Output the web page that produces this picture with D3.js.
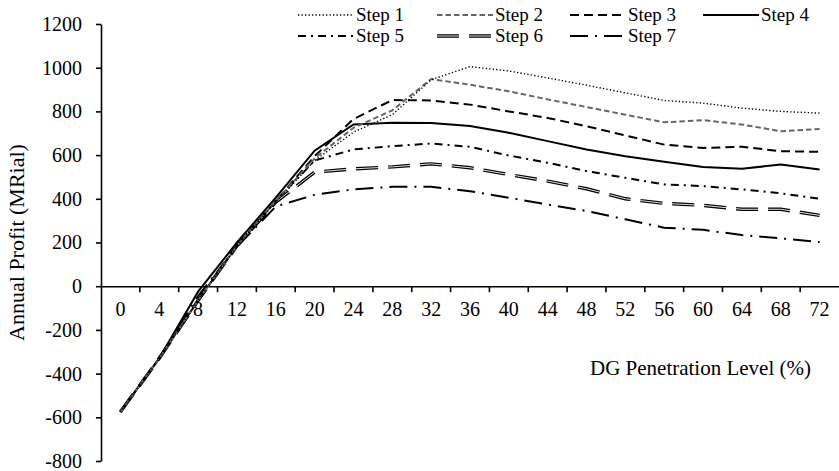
<!DOCTYPE html>
<html>
<head>
<meta charset="utf-8">
<script src="https://cdn.jsdelivr.net/npm/d3@7"></script>
<style>
  body { margin: 0; background: #fff; }
</style>
</head>
<body>
<svg id="chart" width="839" height="471"></svg>
<script>
// DG penetration level (%)
const levels = [0, 4, 8, 12, 16, 20, 24, 28, 32, 36, 40, 44, 48, 52, 56, 60, 64, 68, 72];
const yTicks = [-800, -600, -400, -200, 0, 200, 400, 600, 800, 1000, 1200];
const seriesNames = ['Step 1', 'Step 2', 'Step 3', 'Step 4', 'Step 5', 'Step 6', 'Step 7'];

// annual profit (MRial)
const step1 = [-575, -330, -65, 185, 385, 575, 705, 785, 945, 1005, 985, 953, 920, 885, 850, 838, 815, 800, 792];
const step2 = [-575, -330, -65, 185, 390, 585, 725, 805, 948, 922, 892, 855, 820, 785, 750, 760, 740, 709, 720];
const step3 = [-575, -330, -65, 185, 390, 595, 765, 852, 850, 831, 800, 770, 732, 690, 648, 633, 638, 618, 615];
const step4 = [-575, -330, -25, 200, 405, 620, 740, 748, 747, 733, 702, 664, 626, 595, 570, 546, 537, 557, 534];
const step5 = [-575, -330, -65, 185, 390, 575, 626, 641, 653, 638, 598, 565, 527, 496, 466, 458, 443, 425, 400];
const step6 = [-575, -330, -65, 185, 385, 522, 537, 546, 560, 542, 511, 481, 446, 400, 379, 370, 352, 352, 324];
const step7 = [-575, -330, -45, 180, 365, 418, 443, 455, 455, 435, 405, 374, 344, 306, 268, 258, 234, 219, 202];

const FONT = '"Liberation Serif", "Times New Roman", serif';

const styles = [
  { color: '#000', width: 1.4, dash: '1.3,2.2' },
  { color: '#666', width: 2, dash: '5.5,3' },
  { color: '#000', width: 2, dash: '9,5' },
  { color: '#000', width: 2, dash: null },
  { color: '#000', width: 2, dash: '8,5,2,5' },
  { color: '#000', width: 3.4, dash: '22,10', inner: '#e6e6e6' },
  { color: '#000', width: 2, dash: '18,7,2,7' }
];

const series = [step1, step2, step3, step4, step5, step6, step7].map((vals, i) => ({
  name: seriesNames[i],
  style: styles[i],
  points: vals.map((v, j) => ({ x: levels[j], y: v }))
}));

const svg = d3.select('#chart');

const x = d3.scaleBand().domain(levels).range([101, 839]);
const y = d3.scaleLinear().domain([-800, 1200]).range([461, 24]);
const cx = (d) => x(d) + x.bandwidth() / 2;

// y axis
const yAxis = svg.append('g')
  .attr('transform', 'translate(101,0)')
  .call(d3.axisLeft(y).tickValues(yTicks).tickFormat((d) => String(d))
    .tickSize(5).tickSizeOuter(0).tickPadding(14));
yAxis.select('.domain').attr('stroke', '#000').attr('stroke-width', 1.6);
yAxis.selectAll('.tick line').attr('stroke', '#000').attr('stroke-width', 1.6);
yAxis.selectAll('.tick text')
  .style('font-family', FONT)
  .attr('font-size', 20)
  .attr('fill', '#000');

// x axis at zero, ticks between categories
const xAxis = svg.append('g')
  .attr('transform', `translate(0,${y(0)})`)
  .call(d3.axisBottom(x).tickSize(0).tickSizeOuter(0).tickPadding(16));
xAxis.select('.domain').attr('stroke', '#000').attr('stroke-width', 1.6);
xAxis.selectAll('.tick text')
  .style('font-family', FONT)
  .attr('font-size', 20)
  .attr('fill', '#000');
xAxis.selectAll('line.sep')
  .data(levels.slice(1))
  .enter()
  .append('line')
  .classed('sep', true)
  .attr('x1', (d) => x(d))
  .attr('x2', (d) => x(d))
  .attr('y1', 0)
  .attr('y2', 6)
  .attr('stroke', '#000')
  .attr('stroke-width', 1.6);

// axis titles
svg.append('text')
  .attr('transform', `translate(24,${(y(1200) + y(-800)) / 2}) rotate(-90)`)
  .attr('text-anchor', 'middle')
  .style('font-family', FONT)
  .attr('font-size', 22)
  .text('Annual Profit (MRial)');

svg.append('text')
  .attr('x', 811)
  .attr('y', 375)
  .attr('text-anchor', 'end')
  .style('font-family', FONT)
  .attr('font-size', 21)
  .text('DG Penetration Level (%)');

// lines
const line = d3.line().x((d) => cx(d.x)).y((d) => y(d.y));

function drawPath(sel, s, pathFn) {
  sel.append('path')
    .attr('d', pathFn)
    .attr('fill', 'none')
    .attr('stroke', s.color)
    .attr('stroke-width', s.width)
    .attr('stroke-dasharray', s.dash);
  if (s.inner) {
    sel.append('path')
      .attr('d', pathFn)
      .attr('fill', 'none')
      .attr('stroke', s.inner)
      .attr('stroke-width', 1)
      .attr('stroke-dasharray', s.dash);
  }
}

const lines = svg.append('g');
series.slice().reverse().forEach((s) => {
  drawPath(lines.append('g'), s.style, line(s.points));
});

// legend
const legCols = [298, 437, 570, 703];
const legend = svg.append('g');
series.forEach((s, i) => {
  const col = i < 4 ? i : i - 4;
  const row = i < 4 ? 0 : 1;
  const lx = legCols[col];
  const ly = 15 + row * 21;
  const g = legend.append('g');
  drawPath(g, s.style, `M${lx},${ly}H${lx + 56}`);
  g.append('text')
    .attr('x', lx + 58)
    .attr('y', ly + 6)
    .style('font-family', FONT)
    .attr('font-size', 19)
    .text(s.name);
});
</script>
</body>
</html>
